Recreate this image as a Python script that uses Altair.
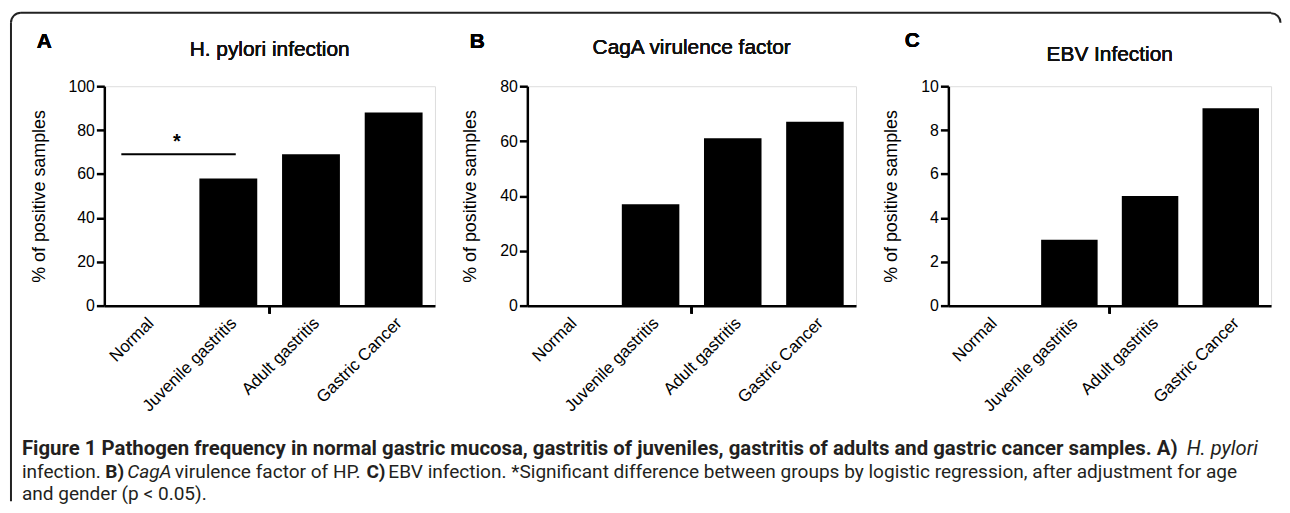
import math
import altair as alt
import pandas as pd

# ---------------- data ----------------
categories = ["Normal", "Juvenile gastritis", "Adult gastritis", "Gastric Cancer"]
hp_values = [0, 58, 69, 88]
caga_values = [0, 37, 61, 67]
ebv_values = [0, 3, 5, 9]

panel_titles = ["H. pylori infection", "CagA virulence factor", "EBV Infection"]
panel_letters = ["A", "B", "C"]
y_max = [100, 80, 10]
y_ticks = [[0, 20, 40, 60, 80, 100], [0, 20, 40, 60, 80], [0, 2, 4, 6, 8, 10]]
y_title = "% of positive samples"

sig_start = ["Normal"]
sig_end = ["Juvenile gastritis"]
sig_value = [69]
sig_mark = ["*"]

caption_line1_bold = ("Figure 1 Pathogen frequency in normal gastric mucosa, gastritis of juveniles, "
                      "gastritis of adults and gastric cancer samples. A)")
caption_line1_italic = "H. pylori"
caption_line2 = ["infection.", "B)", "CagA", "virulence factor of HP.", "C)",
                 "EBV infection. *Significant difference between groups by logistic regression, after adjustment for age"]
caption_line3 = "and gender (p < 0.05)."

# ---------------- style ----------------
FONT = "Liberation Sans, Arial, sans-serif"
CAP_FONT = "Roboto, Liberation Sans, sans-serif"
CAP_COLOR = "#231f20"
H = 221
widths = [333, 331, 325]
title_y = [-30, -32, -25]
letter_pos = [(-68, -38), (-58, -38), (-44, -39)]


def panel(values, idx, extra=None):
    W = widths[idx]
    df = pd.DataFrame({"category": categories, "value": values})
    xscale = alt.Scale(domain=categories, paddingInner=0.3, paddingOuter=0.15)
    x = alt.X("category:N", scale=xscale, sort=categories,
              axis=alt.Axis(title=None, labelAngle=-45, labelFontSize=17, labelFont=FONT,
                            labelColor="black", ticks=False, domainWidth=2.5,
                            domainColor="black", labelPadding=9))
    y = alt.Y("value:Q", scale=alt.Scale(domain=[0, y_max[idx]], nice=False),
              axis=alt.Axis(values=y_ticks[idx], title=y_title, grid=False,
                            tickSize=8, tickWidth=2.5, tickColor="black",
                            domainWidth=2.5, domainColor="black",
                            labelFontSize=16, labelFont=FONT, labelColor="black",
                            labelPadding=2, titleFontSize=18, titleFont=FONT,
                            titleFontWeight="normal", titleColor="black",
                            titlePadding=20, format="d"))
    bars = alt.Chart(df).mark_bar(color="black").encode(x=x, y=y)
    midtick = alt.Chart(df).mark_rule(color="black", strokeWidth=2.5).encode(
        x=alt.value(W / 2), y=alt.value(H), y2=alt.value(H + 8))
    lx, ly = letter_pos[idx]
    letter = alt.Chart(df).mark_text(fontSize=21, fontWeight="bold", font=FONT,
                                     align="left", baseline="alphabetic", color="black").encode(
        x=alt.value(lx), y=alt.value(ly), text=alt.value(panel_letters[idx]))
    title = alt.Chart(df).mark_text(fontSize=21, font=FONT, fontWeight="normal", align="center",
                                    baseline="alphabetic", color="#111111").encode(
        x=alt.value(W / 2), y=alt.value(title_y[idx]), text=alt.value(panel_titles[idx]))
    layers = [bars, midtick, letter, title]
    if extra:
        layers += extra(xscale)
    return alt.layer(*layers).properties(width=W, height=H)


def sig_layers(xscale):
    sdf = pd.DataFrame({"start": sig_start, "end": sig_end, "y": sig_value, "mark": sig_mark})
    rule = alt.Chart(sdf).mark_rule(color="black", strokeWidth=2, xOffset=-24.5, x2Offset=7.5).encode(
        x=alt.X("start:N", scale=xscale, sort=categories),
        x2="end:N",
        y=alt.Y("y:Q"))
    star = alt.Chart(sdf).mark_text(fontSize=20, fontWeight="bold", font=FONT, dx=31.5, dy=-6,
                                    baseline="alphabetic", color="black").encode(
        x=alt.X("start:N", scale=xscale, sort=categories),
        y=alt.Y("y:Q"), text="mark:N")
    # ---- frame and caption (drawn relative to panel A's plot origin) ----
    one = pd.DataFrame({"k": [0]})
    ox, oy = 104, 86
    frame_col = "#222222"
    frame = [
        alt.Chart(one).mark_rule(color=frame_col, strokeWidth=2).encode(
            x=alt.value(20 - ox), x2=alt.value(1279 - ox), y=alt.value(12 - oy)),
        alt.Chart(one).mark_rule(color=frame_col, strokeWidth=2).encode(
            x=alt.value(10 - ox), y=alt.value(22 - oy), y2=alt.value(504 - oy)),
        alt.Chart(one).mark_arc(color=frame_col, theta=1.5 * math.pi, theta2=2 * math.pi,
                                radius=11, radius2=9).encode(
            x=alt.value(20 - ox), y=alt.value(22 - oy)),
        alt.Chart(one).mark_arc(color=frame_col, theta=0, theta2=0.5 * math.pi,
                                radius=10.5, radius2=8.5).encode(
            x=alt.value(1279 - ox), y=alt.value(22 - oy)),
    ]

    def ctext(t, x, y, weight="normal", style="normal", align="left", size=19.2):
        return alt.Chart(one).mark_text(font=CAP_FONT, fontSize=size, fontWeight=weight,
                                        fontStyle=style, align=align, baseline="alphabetic",
                                        color=CAP_COLOR).encode(
            x=alt.value(x - ox), y=alt.value(y - oy), text=alt.value(t))

    l1, l2, l3 = 457, 481, 503
    caption = [
        ctext(caption_line1_bold, 21, l1, weight="bold", size=20.5),
        ctext(caption_line1_italic, 1194, l1, style="italic", size=20.3),
        ctext(caption_line2[0], 21, l2),
        ctext(caption_line2[1], 105, l2, weight="bold"),
        ctext(caption_line2[2], 127, l2, style="italic"),
        ctext(caption_line2[3], 175, l2),
        ctext(caption_line2[4], 368, l2, weight="bold"),
        ctext(caption_line2[5], 390, l2),
        ctext(caption_line3, 21, l3),
    ]
    return [rule, star] + frame + caption


pA = panel(hp_values, 0, extra=sig_layers)
pB = panel(caga_values, 1)
pC = panel(ebv_values, 2)

chart = alt.hconcat(pA, pB, pC, spacing=93, bounds="flush").properties(
    padding={"left": 1, "top": 1, "right": 0, "bottom": 0}
).configure_view(stroke=None).configure(background="white")

chart.save("out.html", embed_options={"renderer": "svg", "actions": False})
